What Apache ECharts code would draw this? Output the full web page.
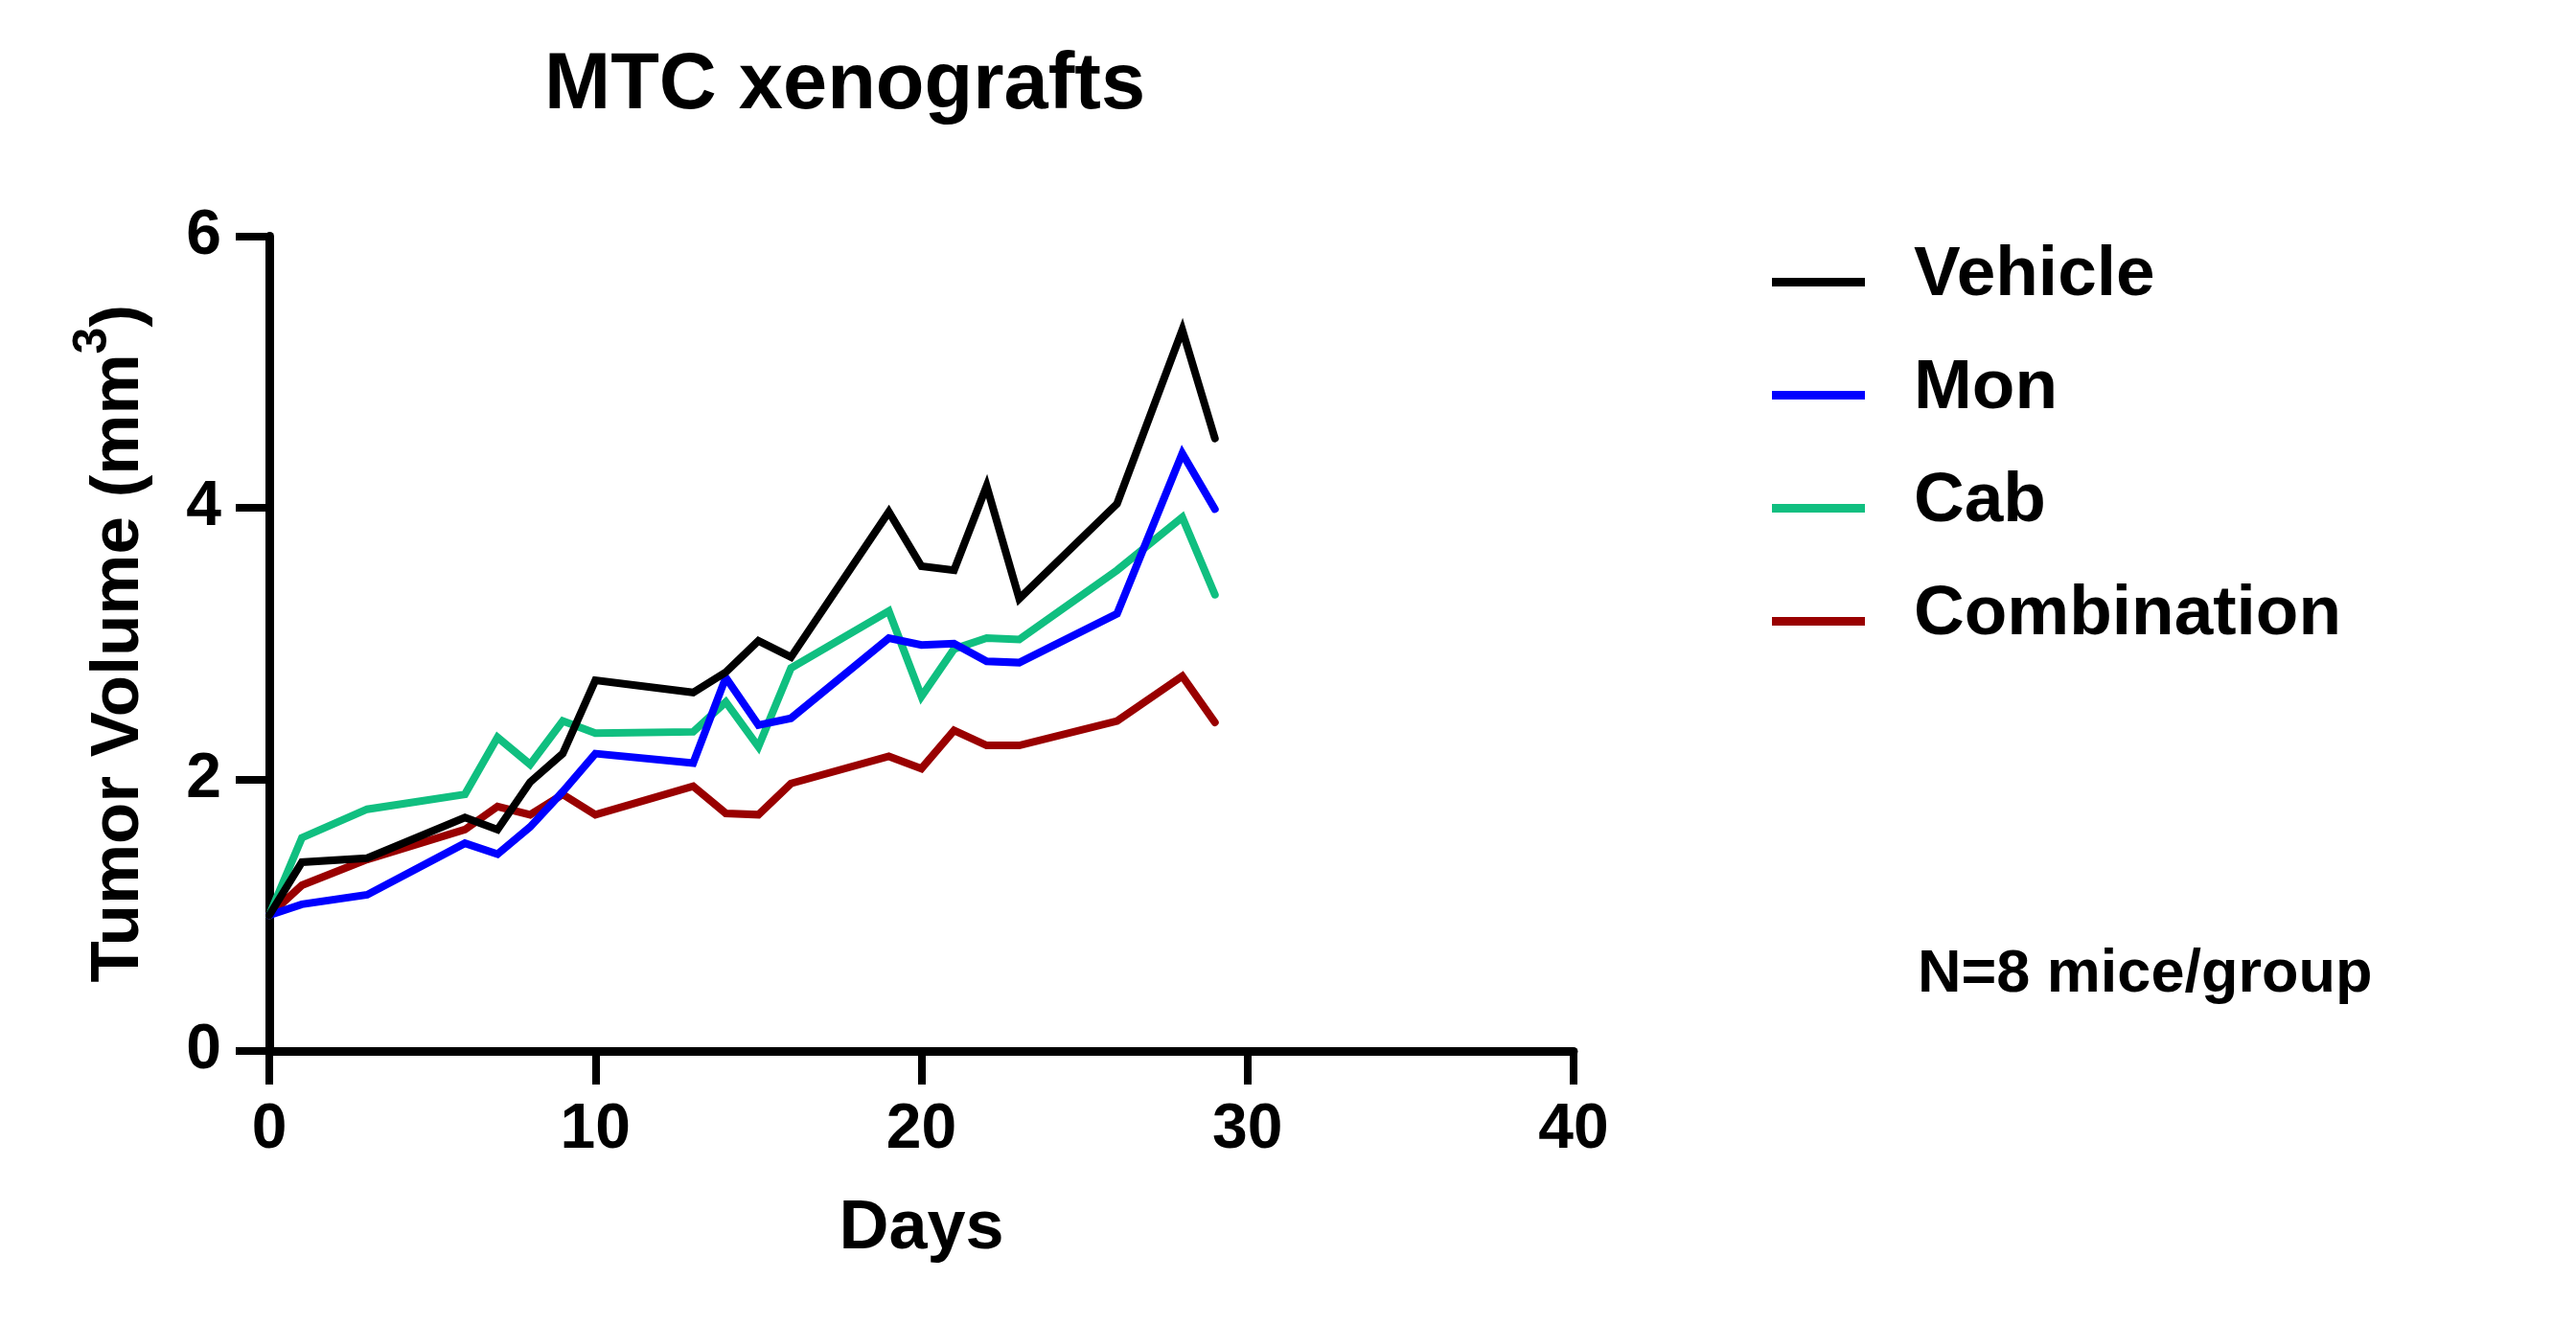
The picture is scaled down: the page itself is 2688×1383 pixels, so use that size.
<!DOCTYPE html>
<html>
<head>
<meta charset="utf-8">
<script src="https://cdn.jsdelivr.net/npm/echarts@6/dist/echarts.min.js"></script>
<style>
html,body{margin:0;padding:0;background:#fff;}
#chart{width:2688px;height:1383px;}
</style>
</head>
<body>
<div id="chart"></div>
<script>
// Data
const days    = [0, 1, 3, 6, 7, 8, 9, 10, 13, 14, 15, 16, 19, 20, 21, 22, 23, 26, 28, 29];
const vehicle = [1.00, 1.39, 1.42, 1.72, 1.63, 1.98, 2.19, 2.73, 2.64, 2.79, 3.02, 2.90, 3.97, 3.57, 3.54, 4.16, 3.33, 4.03, 5.31, 4.51];
const mon     = [1.00, 1.08, 1.15, 1.53, 1.45, 1.65, 1.91, 2.19, 2.12, 2.75, 2.40, 2.45, 3.04, 2.99, 3.00, 2.87, 2.86, 3.22, 4.40, 3.99];
const cab     = [1.00, 1.57, 1.78, 1.89, 2.31, 2.11, 2.43, 2.34, 2.35, 2.57, 2.24, 2.82, 3.24, 2.61, 2.96, 3.04, 3.03, 3.54, 3.93, 3.36];
const combo   = [1.00, 1.22, 1.41, 1.63, 1.80, 1.74, 1.89, 1.74, 1.95, 1.75, 1.74, 1.97, 2.17, 2.08, 2.36, 2.25, 2.25, 2.43, 2.76, 2.42];
const seriesNames = ['Vehicle', 'Mon', 'Cab', 'Combination'];
const xTicks = [0, 10, 20, 30, 40];
const yTicks = [0, 2, 4, 6];

const FONT = "'Liberation Sans', Arial, Helvetica, sans-serif";
const colors = ['#000000', '#0000ff', '#10bf80', '#990000'];
const values = [vehicle, mon, cab, combo];

const chart = echarts.init(document.getElementById('chart'), null, {renderer: 'canvas'});

const series = seriesNames.map((name, i) => ({
  name: name,
  type: 'line',
  data: days.map((d, j) => [d, values[i][j]]),
  symbol: 'none',
  lineStyle: {color: colors[i], width: 8, join: 'miter', cap: 'round'},
  itemStyle: {color: colors[i]},
  z: 10 - i
}));

chart.setOption({
  animation: false,
  backgroundColor: '#ffffff',
  title: [
    {
      text: 'MTC xenografts',
      left: 563,
      top: 44,
      textStyle: {fontFamily: FONT, fontWeight: 'bold', fontSize: 83, color: '#000'}
    },
    {
      text: 'N=8 mice/group',
      left: 1996,
      top: 981,
      textStyle: {fontFamily: FONT, fontWeight: 'bold', fontSize: 63, color: '#000'}
    }
  ],
  legend: {
    orient: 'vertical',
    left: 1849,
    top: 251,
    padding: 0,
    itemWidth: 97,
    itemHeight: 9,
    itemGap: 31,
    icon: 'rect',
    data: seriesNames,
    formatter: function (name) { return '{t|' + name + '}'; },
    textStyle: {
      fontFamily: FONT, fontWeight: 'bold', fontSize: 73, color: '#000',
      rich: {
        t: {fontFamily: FONT, fontWeight: 'bold', fontSize: 73, color: '#000', lineHeight: 73, padding: [0, 0, 14, 46]}
      }
    }
  },
  grid: {left: 281, right: 1046, top: 246.5, bottom: 286, containLabel: false},
  xAxis: {
    type: 'value',
    min: xTicks[0],
    max: xTicks[xTicks.length - 1],
    interval: 10,
    name: 'Days',
    nameLocation: 'middle',
    nameGap: 150,
    nameTextStyle: {fontFamily: FONT, fontWeight: 'bold', fontSize: 72, color: '#000'},
    axisLine: {show: true, lineStyle: {color: '#000', width: 9}},
    axisTick: {show: true, length: 35, lineStyle: {color: '#000', width: 8}},
    axisLabel: {fontFamily: FONT, fontWeight: 'bold', fontSize: 66, color: '#000', margin: 50},
    splitLine: {show: false}
  },
  yAxis: {
    type: 'value',
    min: yTicks[0],
    max: yTicks[yTicks.length - 1],
    interval: 2,
    name: 'Tumor Volume (mm{sup|3})',
    nameLocation: 'middle',
    nameGap: 105,
    nameTextStyle: {
      fontFamily: FONT, fontWeight: 'bold', fontSize: 71, color: '#000',
      rich: {
        sup: {fontFamily: FONT, fontWeight: 'bold', fontSize: 50, color: '#000', verticalAlign: 'bottom', padding: [0, 0, 54, 0]}
      }
    },
    axisLine: {show: true, lineStyle: {color: '#000', width: 9}},
    axisTick: {show: true, length: 35, lineStyle: {color: '#000', width: 8}},
    axisLabel: {fontFamily: FONT, fontWeight: 'bold', fontSize: 66, color: '#000', margin: 50},
    splitLine: {show: false}
  },
  series: series
});
</script>
</body>
</html>
